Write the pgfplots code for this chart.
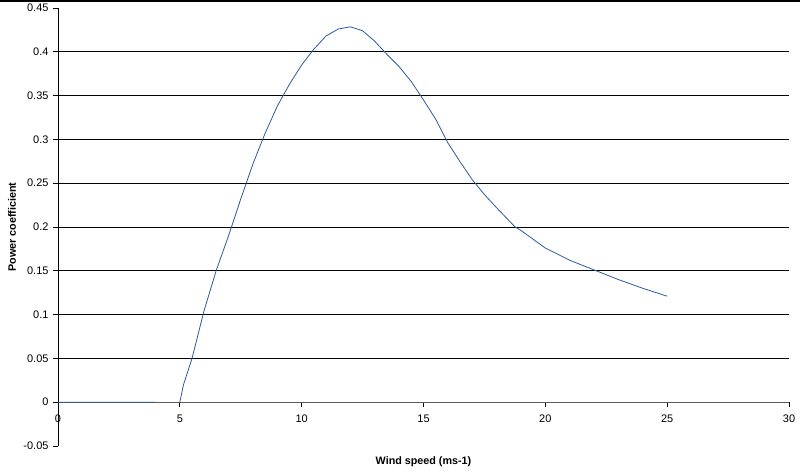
\documentclass[border=0pt]{standalone}
\usepackage{fontspec}
\setmainfont{Liberation Sans}
\usepackage{pgfplots}
\pgfplotsset{compat=1.18}
\definecolor{cpblue}{RGB}{40,90,160}
\definecolor{axisgray}{RGB}{90,90,90}
\begin{document}
\begin{tikzpicture}[x=1bp,y=1bp]
\path[use as bounding box] (-58,-27) rectangle (742,446);
\begin{axis}[
  at={(0,0)}, anchor=south west,
  width=731bp, height=438bp, scale only axis,
  xmin=0, xmax=30, ymin=-0.05, ymax=0.45,
  axis x line*=middle, axis y line*=left,
  hide obscured x ticks=false,
  x axis line style={axisgray, line width=1.3pt},
  y axis line style={black, line width=0.9pt},
  xtick={0,5,...,30},
  ytick={-0.05,0,0.05,0.1,0.15,0.2,0.25,0.3,0.35,0.4,0.45},
  yticklabels={-0.05,0,0.05,0.1,0.15,0.2,0.25,0.3,0.35,0.4,0.45},
  xticklabels={0,5,10,15,20,25,30},
  extra y ticks={0.05,0.1,0.15,0.2,0.25,0.3,0.35,0.4},
  extra y tick labels={},
  extra y tick style={grid=major, major tick length=0pt},
  grid style={black, line width=0.9pt},
  tick align=outside,
  major tick length=5bp,
  tick style={black, line width=0.8pt},
  ticklabel style={font=\fontsize{11}{13}\selectfont},
  xticklabel style={yshift=-4bp},
  yticklabel style={xshift=-1bp},
  unbounded coords=jump,
  xlabel={Wind speed (ms-1)},
  ylabel={Power coefficient},
  every axis x label/.style={at={(axis description cs:0.5,-0.037)}, anchor=center, font=\fontsize{10.8}{12}\selectfont\bfseries},
  every axis y label/.style={at={(axis description cs:-0.063,0.5)}, rotate=90, anchor=center, font=\fontsize{10.8}{12}\selectfont\bfseries},
  clip=false,
]
\addplot[cpblue, line width=0.8pt, no markers] coordinates {
  (0,0) (1,0) (2,0) (3,0) (4,0) (4.5,nan) (5,0)
  (5.15,0.02) (5.5,0.05) (6,0.105) (6.5,0.151) (7,0.19) (7.5,0.232)
  (8,0.272) (8.5,0.307) (9,0.338) (9.5,0.363) (10,0.385) (10.5,0.403)
  (11,0.418) (11.5,0.426) (12,0.4285) (12.5,0.424) (13,0.412) (13.5,0.397)
  (14,0.383) (14.5,0.366) (15,0.345) (15.5,0.323) (16,0.296) (16.5,0.2745)
  (17,0.254) (17.5,0.237) (18,0.222) (18.75,0.2003) (19,0.196) (20,0.176)
  (21,0.162) (22,0.151) (23,0.140) (24,0.130) (25,0.121)
};
\end{axis}
\draw[black, line width=1.5pt] (-58,445.2) -- (742,445.2);
\end{tikzpicture}
\end{document}
